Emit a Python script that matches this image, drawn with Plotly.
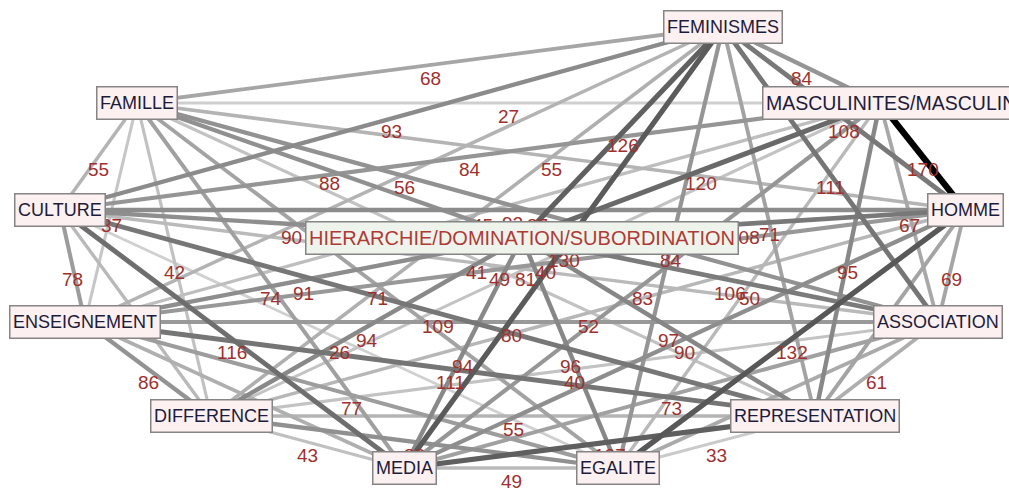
import plotly.graph_objects as go

# ---- data ----
node_names = ["FEMINISMES", "FAMILLE", "MASCULINITES/MASCULINITE", "CULTURE", "HOMME",
              "HIERARCHIE/DOMINATION/SUBORDINATION", "ENSEIGNEMENT", "ASSOCIATION",
              "DIFFERENCE", "REPRESENTATION", "MEDIA", "EGALITE"]

edge_source = [0]*11 + [1]*10 + [2]*9 + [3]*8 + [4]*7 + [5]*6 + [6]*5 + [7]*4 + [8]*3 + [9]*2 + [10]
edge_target = (list(range(1, 12)) + list(range(2, 12)) + list(range(3, 12)) + list(range(4, 12)) +
               list(range(5, 12)) + list(range(6, 12)) + list(range(7, 12)) + list(range(8, 12)) +
               list(range(9, 12)) + list(range(10, 12)) + [11])
edge_weight = [68, 84, 93, 108, 126, 56, 111, 60, 71, 130, 84,
               27, 55, 55, 88, 37, 87, 42, 41, 74, 71,
               84, 170, 120, 45, 67, 40, 95, 83, 50,
               92, 90, 78, 49, 50, 109, 116, 26,
               108, 81, 69, 52, 70, 90, 132,
               91, 106, 94, 97, 94, 96,
               80, 86, 111, 60, 77,
               40, 61, 73, 65,
               55, 43, 88,
               127, 33,
               49]

# ---- layout (node placement in pixel space) ----
node_x = [723, 137, 880, 60, 965, 522, 85, 938, 211, 815, 404, 618]
node_y = [27, 103, 103, 210, 210, 238, 322, 322, 416, 416, 468, 468]

W, H = 1009, 492
wmin, wmax = min(edge_weight), max(edge_weight)

def edge_color(w):
    t = 1 - w / wmax
    g = int(round(232 * t ** 0.65))
    return f"rgb({g},{g},{g})"

def edge_width(w):
    return 2.8 + 3.4 * (w - wmin) / (wmax - wmin)

fig = go.Figure()
order = sorted(range(len(edge_weight)), key=lambda i: edge_weight[i])
for i in order:
    s, t = edge_source[i], edge_target[i]
    fig.add_trace(go.Scatter(x=[node_x[s], node_x[t]], y=[node_y[s], node_y[t]], mode="lines",
                             line=dict(color=edge_color(edge_weight[i]), width=edge_width(edge_weight[i])),
                             hoverinfo="skip", showlegend=False))

annotations = []
for i, w in enumerate(edge_weight):
    s, t = edge_source[i], edge_target[i]
    annotations.append(dict(x=(node_x[s] + node_x[t]) / 2, y=(node_y[s] + node_y[t]) / 2,
                            text=str(w), showarrow=False, yshift=-13,
                            font=dict(family="Liberation Sans, Arial", size=19, color="#a0302e")))

for i, name in enumerate(node_names):
    main = (i == 5)
    size = 20 if main else (19.5 if i == 2 else 18)
    a = dict(x=node_x[i], y=node_y[i], text=name, showarrow=False,
             bgcolor="#eef4ec" if main else "#fdf0f0", bordercolor="#858585",
             borderwidth=1.5, borderpad=2.5, height=26,
             font=dict(family="Liberation Sans, Arial", size=size,
                       color="#b03a36" if main else "#1c1c3c"))
    if i == 2:
        a["x"] = node_x[i] - 118
        a["xanchor"] = "left"
    annotations.append(a)

fig.update_layout(width=W, height=H, margin=dict(l=0, r=0, t=0, b=0),
                  paper_bgcolor="white", plot_bgcolor="white",
                  xaxis=dict(range=[0, W], visible=False, fixedrange=True),
                  yaxis=dict(range=[H, 0], visible=False, fixedrange=True),
                  annotations=annotations, showlegend=False)

fig.write_html("out.html", config={"displayModeBar": False},
               post_script="document.body.style.margin='0';")
